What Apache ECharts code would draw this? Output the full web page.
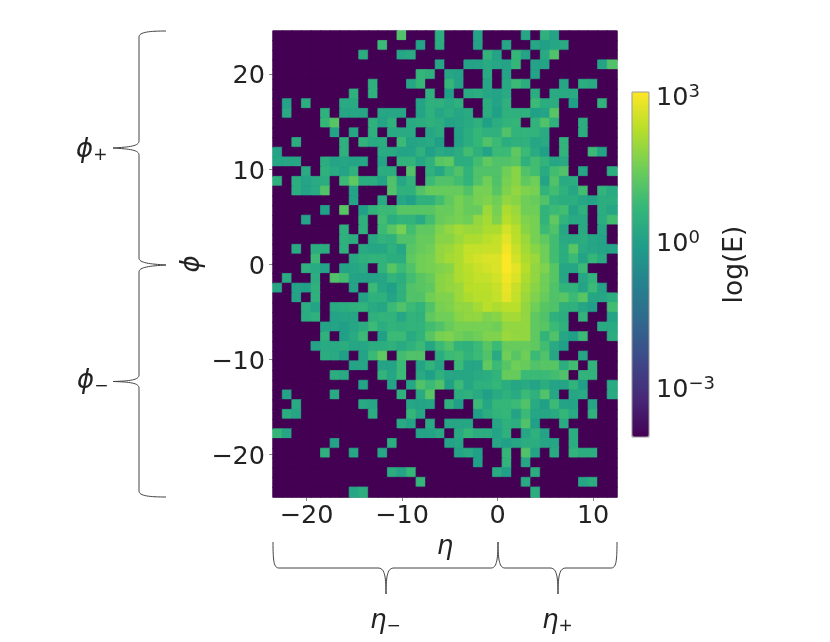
<!DOCTYPE html>
<html>
<head>
<meta charset="utf-8">
<style>html,body{margin:0;padding:0;background:#fff}#c{width:830px;height:642px}</style>
<script src="https://cdn.jsdelivr.net/npm/echarts@6/dist/echarts.min.js"></script>
</head>
<body>
<div id="c"></div>
<script>
const _ = null;
// eta bin centres (columns)
const etaBins = [-23,-22,-21,-20,-19,-18,-17,-16,-15,-14,-13,-12,-11,-10,-9,-8,-7,-6,-5,-4,-3,-2,-1,0,1,2,3,4,5,6,7,8,9,10,11,12];
// phi bin index, top of the image first
const phiBins = [0,1,2,3,4,5,6,7,8,9,10,11,12,13,14,15,16,17,18,19,20,21,22,23,24,25,26,27,28,29,30,31,32,33,34,35,36,37,38,39,40,41,42,43,44,45,46,47];
// log10(E) read per cell, one row per phi bin; _ = empty bin
const logE = [
[_,_,_,_,_,_, _,_,_,_,_,_, _,1.1,_,_,_,.4, _,_,_,.1,_,_, _,_,.2,_,.5,.1, _,_,_,_,_,_],
[_,_,_,_,_,_, _,_,_,_,_,.8, _,_,_,.1,_,.4, _,_,_,.1,_,_, .2,_,_,.2,0,.2, .3,_,_,_,_,_],
[_,_,_,_,_,_, _,_,_,.4,_,_, _,.2,.3,_,_,_, _,_,_,_,.6,.1, _,.7,.1,_,.3,1.1, _,_,_,_,_,_],
[_,_,_,_,_,_, _,_,_,_,_,_, _,_,_,_,_,.2, _,_,.1,.1,.3,.2, .1,.7,_,.1,.1,_, _,_,_,_,.1,1.1],
[_,_,_,_,_,_, _,_,_,_,_,_, _,_,_,.7,.5,_, .2,.1,_,_,.3,_, .1,_,_,.1,_,_, _,_,_,_,_,_],
[_,_,_,_,_,_, _,_,_,_,.5,_, _,_,.2,.7,_,_, .7,.1,_,_,.2,_, .3,.8,.4,_,_,_, .2,_,.4,.3,_,_],
[_,_,_,_,_,_, _,_,.5,_,.5,_, _,_,_,_,.5,_, 0,_,.3,.4,.2,.1, .3,_,_,.4,_,.3, .3,.3,_,_,_,_],
[_,.1,_,.4,_,_, _,.3,.3,_,_,_, _,_,_,.1,.5,.5, .3,.5,_,_,.4,.1, .5,_,_,.8,.4,.4, _,0,_,_,.6,_],
[_,.3,_,_,_,.5, _,.2,.2,.2,_,.2, .2,.2,_,.1,.5,.2, .4,.2,.3,_,.4,0, .5,.5,.5,0,.1,1.2, _,_,_,_,_,_],
[_,_,_,_,_,.7, 1.2,_,_,_,.5,.1, .5,_,.3,.4,.5,.4, .1,.2,.3,.5,0,.4, .6,.7,_,.6,1.1,.5, _,_,.4,_,_,_],
[_,_,_,_,_,_, .1,_,.2,_,.5,_, .3,.3,.3,_,.2,.4, _,.1,.4,.7,.5,.5, 1.1,.6,.6,.6,.3,_, _,_,.4,_,_,_],
[_,_,.4,_,_,_, _,.5,_,.6,.3,.4, _,.8,.1,.2,.3,0, _,.1,.4,.7,1.1,.8, .4,.5,.5,.2,.3,_, .6,_,_,_,_,_],
[.1,_,_,_,_,_, _,.5,_,_,_,.3, .3,.1,.1,.5,0,.3, .2,.4,.9,.5,.1,.8, .8,1.3,.8,.3,0,_, .6,_,_,.8,.1,_],
[.2,.2,.2,_,_,.4, .1,.2,.1,.2,_,.1, _,.6,.6,.2,.5,1.2, 1.3,.4,.4,.9,1.3,1.1, 1.1,1.2,.5,.9,.6,.2, .3,_,_,_,_,_],
[_,_,_,.3,_,.5, .3,.1,.5,_,_,.4, .4,_,1.1,_,.5,.2, .8,1.1,.6,1.1,1.1,1.1, 1.5,1.8,1.1,.9,.3,.9, 1.1,_,.2,_,_,.4],
[.5,_,.4,.1,.3,.4, _,.8,1.3,.4,.4,.1, 1.1,.2,.6,_,.8,1.1, 1.1,.9,.6,1.1,1.5,1.1, 1.6,1.8,1.3,1.5,.1,1.1, .3,.4,_,_,_,_],
[_,_,.4,.1,.3,1.1, _,_,.1,_,_,_, 1.1,.5,.5,1.1,1.4,1.4, 1.4,1.4,1.1,1.6,1.6,1.2, 1.7,1.9,1.7,1.6,.6,.9, .5,.2,.9,_,.6,.3],
[_,_,_,_,_,_, _,_,.1,_,_,.3, _,.2,0,.5,.5,.9, 1.3,1.6,1.4,1.6,1.7,1.5, 1.9,1.8,1.5,1.4,1.1,.5, .4,.4,.2,.1,.4,.4],
[_,_,_,_,_,0, _,1.2,_,0,.6,.8, .8,1.2,1.2,1.2,1.2,1.4, 1.4,1.6,1.4,1.4,2,1.6, 2.2,2,1.5,1.5,.6,.8, .9,.1,.5,_,.4,.2],
[_,_,_,.1,_,_, _,_,_,.5,_,.9, .4,.6,.6,.3,.9,1.4, 1.5,1.6,1.5,1.9,2.1,1.7, 2.3,2.1,1.7,1.6,.6,1.3, .6,.3,.3,_,.4,.9],
[_,_,_,_,_,_, _,.5,_,.5,_,.8, 1.2,1.6,.9,1.3,1.3,1.7, 1.9,2.1,2,2,2.2,2.2, 2.6,2.3,1.8,1.6,.8,1.1, .2,_,.3,_,.2,_],
[_,_,_,_,_,_, _,.5,.4,_,.3,.6, .5,1.1,1.1,1.4,1.4,1.8, 1.8,2,2.2,2.2,2.35,2.45, 2.8,2.35,2,1.6,1.3,.9, .3,.3,.4,.2,.1,_],
[_,_,.3,_,.4,.4, _,.5,_,.3,.2,.2, .5,.2,1.2,1.4,1.5,1.9, 2,2.2,2.45,2.45,2.5,2.5, 2.95,2.5,2.1,1.8,1.5,.9, .4,1.2,.3,.2,.1,.1],
[_,_,_,_,.8,_, _,_,.3,.5,.6,.6, .4,.4,1.3,1.5,1.6,1.9, 2.1,2.2,2.5,2.6,2.7,2.7, 3.05,2.6,2.2,2,1.5,.9, .4,.8,.1,.7,.3,_],
[_,_,_,.5,.3,.1, _,.1,.2,.3,_,.6, 1.2,.8,1.1,1.5,1.6,1.7, 1.8,2.2,2.35,2.5,2.6,2.7, 3.05,2.8,2.3,1.9,1.7,1.2, .2,.2,.8,_,_,_],
[_,.3,_,_,.4,_, 1.1,.9,.1,.1,.1,.2, .6,.4,.9,1.2,1.4,1.8, 1.9,2.2,2.3,2.45,2.45,2.6, 2.95,2.7,2.2,1.9,1.5,1.2, .2,_,.2,.6,_,_],
[.2,_,.1,0,.5,_, _,_,.1,_,.8,.2, 0,.5,1.1,1.2,1.3,1.8, 1.9,2,2.3,2.35,2.35,2.5, 2.85,2.5,2.1,1.8,1.5,1.1, .6,.6,.1,.8,.1,_],
[_,_,.1,_,.5,_, _,_,_,.1,.5,.5, .1,.5,1.1,1.1,1.5,1.7, 1.7,2,2.2,2.3,2.3,2.45, 2.8,2.45,2,1.7,1.4,1.1, 1.2,.8,1.2,.2,.2,.4],
[_,_,_,.4,.1,_, .3,.4,.5,.6,.3,.2, .8,1.1,.8,.6,1.1,1.6, 1.7,1.9,1.9,2.1,2.35,2.2, 2.35,2.35,1.9,1.5,1.2,1.1, .5,.5,.2,0,_,.9],
[_,_,_,.4,.5,_, .1,.2,.2,_,.5,.6, .6,.2,.6,.5,1.3,1.5, 1.5,1.8,1.9,1.9,1.7,1.8, 2.1,2.1,1.9,1.3,1.1,.5, .4,_,.6,_,_,.1],
[_,_,_,_,_,.1, .1,0,.2,.4,.8,.4, .6,.5,.6,.6,.9,1.1, 1.4,1.6,1.6,1.6,1.6,1.5, 1.9,1.9,1.9,1.3,1.2,.8, .5,_,_,_,.3,.3],
[_,_,_,_,_,.5, _,0,.3,.8,_,0, .8,.8,.3,.6,1.2,1.6, 1.7,1.5,1.4,1.5,1.7,1.7, 2,1.9,1.9,1.3,.6,1.1, .2,0,.8,_,_,.4],
[_,_,_,_,.1,.3, .3,.4,.2,.2,.4,.4, .5,.3,.5,.8,.2,.8, 1.1,.6,.5,.8,1.2,.8, 1.4,1.4,1.4,1.3,.9,.3, 0,_,_,_,_,_],
[_,_,_,_,_,.4, .3,0,_,.1,.8,1.3, _,.9,1.1,1.1,_,.4, .8,.9,.6,.8,1.1,.3, 1.5,1.2,1.5,.8,1.1,.2, _,_,.2,_,_,_],
[_,_,_,_,_,_, _,_,.1,.2,_,.1, .1,.8,_,.1,.6,.2, _,.8,.2,.2,1.3,.8, 1.2,1.5,1.4,1.1,1.2,1.2, .4,.9,_,.6,_,_],
[_,_,_,_,_,_, .4,.3,_,_,_,.6, .2,.8,_,.3,0,.5, .2,.2,.2,.3,.4,.6, 1.4,1.4,.8,.8,.8,.9, 1.1,_,.6,.6,_,_],
[_,_,_,_,_,_, _,_,_,.1,_,_, .1,_,.2,1.1,.8,1.1, 0,.8,.2,.5,.5,.7, .4,.2,.3,.1,.4,.1, .1,.6,0,_,_,.3],
[_,.1,_,_,_,_, .3,_,_,_,_,_, _,.5,_,.3,1.2,_, _,.4,.5,.3,0,.3, .5,.3,.8,.5,1.1,.2, _,.2,.3,_,_,.3],
[_,_,.3,_,_,_, _,_,_,.3,.2,_, _,_,.2,.1,.2,_, .5,0,_,.8,.2,.7, .7,.8,1.1,.3,0,.8, .1,.1,_,.2,_,_],
[_,.4,.2,_,_,_, _,_,_,_,.4,_, _,_,.7,.2,_,_, _,_,_,0,.4,.6, .7,.1,.8,.2,.2,.3, .7,.3,_,.5,_,_],
[_,_,_,_,_,_, _,_,_,_,_,_, _,.3,.1,_,.3,_, .2,.2,.2,_,_,.2, .5,.4,1.1,0,_,_, .3,_,_,_,_,_],
[.7,.2,_,_,_,_, _,_,_,_,_,_, _,_,_,.1,.1,.3, _,.3,.7,.4,.4,.1, .5,_,.2,.5,.1,_, _,.4,_,_,_,_],
[_,_,_,_,_,_, .1,_,_,_,_,_, .4,_,_,_,_,_, .1,.2,_,_,_,.2, 0,.2,.4,.4,.2,.2, _,.4,_,_,_,_],
[_,_,_,_,_,.5, _,_,.2,_,_,.2, _,_,_,_,_,_, _,.1,.3,0,_,_, .7,_,1.1,.1,_,.3, _,.6,.4,.4,_,_],
[_,_,_,_,_,_, _,_,_,_,_,_, _,_,_,_,_,_, _,_,_,0,_,_, .6,_,.2,_,_,_, _,_,_,_,_,_],
[_,_,_,_,_,_, _,_,_,_,_,_, .4,.1,.7,_,_,_, _,_,_,_,_,.3, 0,_,_,.4,_,_, _,_,_,_,_,_],
[_,_,_,_,_,_, _,_,_,_,_,_, _,_,_,.7,_,_, _,_,_,_,_,_, _,_,.3,_,_,_, _,_,.2,.4,_,_],
[_,_,_,_,_,_, _,_,.2,.4,_,_, _,_,_,_,_,_, _,_,_,_,_,_, _,_,_,.4,_,_, _,_,_,_,_,_]
];
const etaTicks = [-20,-10,0,10];
const phiTicks = [-20,-10,0,10,20];
const barTicks = [-3,0,3];
const logFloor = -4;
const logTop = 3.08;
const viridis = ['#440154','#482878','#3e4989','#31688e','#26828e','#1f9e89','#35b779','#6ece58','#b5de2b','#fde725'];

const cells = [];
logE.forEach((row, k) => row.forEach((v, c) => {
  const val = v === null ? logFloor : v;
  // each cell's edge takes its own colour so neighbouring cells leave no seam
  const edge = echarts.color.lerp(Math.min(1, (val - logFloor) / (logTop - logFloor)), viridis);
  cells.push({ value: [c, k, val], itemStyle: { borderColor: edge, borderWidth: 0.8 } });
}));

const FONT = '"DejaVu Sans"';
const TXT = '#222';
const FS = 25.5;
const minus = v => v < 0 ? '\u2212' + Math.abs(v) : String(v);
const sub = { fontFamily: FONT, fontSize: 17, fontStyle: 'normal', padding: [12, 0, 0, 0], fill: TXT, color: TXT };
const sym = { fontFamily: FONT, fontSize: 26, fontStyle: 'italic', fill: TXT, color: TXT };
const mathLabel = (x, y, s, t) => ({
  type: 'text', x: x, y: y,
  style: { text: '{a|' + s + '}{b|' + t + '}', rich: { a: sym, b: sub }, verticalAlign: 'middle', fill: TXT }
});
const braceStyle = { fill: 'none', stroke: '#444', lineWidth: 1 };
// brace outline: runs of [x,y] line ends and [cx1,cy1,cx2,cy2,x,y] curves
const outline = (start, segs) => {
  const out = []; let p = start;
  segs.forEach(s => {
    if (s.length === 2) {
      out.push({ type: 'line', shape: { x1: p[0], y1: p[1], x2: s[0], y2: s[1] }, style: braceStyle });
      p = s;
    } else {
      out.push({ type: 'bezierCurve', shape: { x1: p[0], y1: p[1], cpx1: s[0], cpy1: s[1], cpx2: s[2], cpy2: s[3], x2: s[4], y2: s[5] }, style: braceStyle });
      p = [s[4], s[5]];
    }
  });
  return out;
};
const leftBrace = outline([166,31], [[150,31,139,32,139,37],[139,141],[139,146,130,147,113,148],[130,149,139,150,139,155],[139,258],[139,263,150,264,166,265],[150,266,139,267,139,272],[139,375],[139,380,130,381,113,381.5],[130,382,139,383,139,388],[139,491],[139,496,150,497,166,497]]);
const bottomBrace = outline([273,542], [[273,562,274,568,279,568],[378,568],[384,568,386,574,386,594],[386,574,388,568,394,568],[491,568],[496,568,498,562,498,542],[498,562,500,568,505,568],[550,568],[556,568,558,574,558,594],[558,574,560,568,566,568],[611,568],[616,568,617,562,617,542]]);

const chart = echarts.init(document.getElementById('c'), null, { renderer: 'canvas' });
chart.setOption({
  animation: false,
  backgroundColor: '#fff',
  grid: [
    { left: 273, top: 31, width: 344, height: 466, show: true, backgroundColor: '#440154', borderColor: '#aaa', borderWidth: 1 },
    { left: 632, top: 92, width: 17, height: 345, show: true, borderColor: '#999', borderWidth: 1, backgroundColor: 'transparent', z: 10 }
  ],
  xAxis: [
    { type: 'category', gridIndex: 0, data: etaBins, show: false },
    { type: 'value', gridIndex: 0, min: -23.5, max: 12.5, position: 'bottom',
      name: '\u03B7', nameLocation: 'middle', nameGap: 36,
      nameTextStyle: { fontFamily: FONT, fontSize: 26, fontStyle: 'italic', color: TXT },
      splitLine: { show: false },
      axisLine: { onZero: false, lineStyle: { color: '#999' } },
      axisTick: { length: 4, lineStyle: { color: '#888' }, customValues: etaTicks },
      axisLabel: { customValues: etaTicks, formatter: minus, fontFamily: FONT, fontSize: FS, color: TXT, margin: 6 } },
    { type: 'value', gridIndex: 1, min: 0, max: 1, show: false }
  ],
  yAxis: [
    { type: 'category', gridIndex: 0, data: phiBins, inverse: true, show: false },
    { type: 'value', gridIndex: 0, min: -24.5, max: 24.5, position: 'left',
      name: '\u03D5', nameLocation: 'middle', nameGap: 68,
      nameTextStyle: { fontFamily: FONT, fontSize: 26, fontStyle: 'italic', color: TXT },
      splitLine: { show: false },
      axisLine: { onZero: false, lineStyle: { color: '#999' } },
      axisTick: { length: 4, lineStyle: { color: '#888' }, customValues: phiTicks },
      axisLabel: { customValues: phiTicks, margin: 8, color: TXT,
        formatter: v => '{n|' + minus(v) + '}',
        rich: { n: { fontFamily: FONT, fontSize: FS, color: TXT, padding: [6, 0, 0, 0] } } } },
    { type: 'value', gridIndex: 1, min: logFloor, max: logTop, position: 'right',
      name: 'log(E)', nameLocation: 'middle', nameGap: 73,
      nameTextStyle: { fontFamily: FONT, fontSize: 26.5, color: TXT },
      splitLine: { show: false },
      axisLine: { show: false },
      axisTick: { length: 4, lineStyle: { color: '#666' }, customValues: barTicks },
      axisLabel: { customValues: barTicks, margin: 7, color: TXT, padding: [4, 0, 0, 0],
        formatter: v => '{b|10}{s|' + minus(v) + '}',
        rich: {
          b: { fontFamily: FONT, fontSize: FS, color: TXT },
          s: { fontFamily: FONT, fontSize: 18, color: TXT, padding: [0, 0, 12, 0] }
        } } }
  ],
  visualMap: {
    type: 'continuous', seriesIndex: 0, min: logFloor, max: logTop,
    left: 632, top: 92, itemWidth: 17, itemHeight: 345, padding: 0,
    calculable: false, hoverLink: false, text: null, showLabel: false,
    inRange: { color: viridis }
  },
  graphic: [
    { type: 'group', children: leftBrace.concat(bottomBrace) },
    mathLabel(76, 150, '\u03D5', '+'),
    mathLabel(77, 381, '\u03D5', '\u2212'),
    mathLabel(370, 621, '\u03B7', '\u2212'),
    mathLabel(542, 621, '\u03B7', '+')
  ],
  series: [{
    type: 'heatmap', coordinateSystem: 'cartesian2d', xAxisIndex: 0, yAxisIndex: 0,
    data: cells, progressive: 0, emphasis: { disabled: true }
  }]
});
</script>
</body>
</html>
